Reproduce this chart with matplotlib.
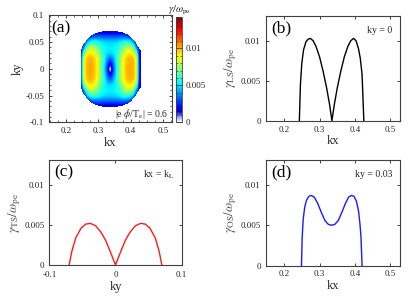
import numpy as np
import matplotlib
matplotlib.use('Agg')
import matplotlib.pyplot as plt
from matplotlib.colors import LinearSegmentedColormap
from matplotlib.ticker import AutoMinorLocator

plt.rcParams['font.family'] = ['Liberation Serif', 'DejaVu Serif']
plt.rcParams['mathtext.fontset'] = 'stix'

# (a) growth-rate map, values read on a coarse kx-ky grid (upper half, ky >= 0)
map_kx = [0.245, 0.255, 0.265, 0.275, 0.285, 0.295, 0.305, 0.315, 0.325, 0.335,
          0.345, 0.355, 0.365, 0.375, 0.385, 0.395, 0.405, 0.415, 0.425]
map_ky = [0.0, 0.01, 0.02, 0.03, 0.04, 0.05, 0.06, 0.07, 0.08]
row_ky00 = [0.0020, 0.0088, 0.0100, 0.0102, 0.0099, 0.0090, 0.0075, 0.0055, 0.0030, 0.0000,
            0.0030, 0.0055, 0.0075, 0.0090, 0.0099, 0.0102, 0.0100, 0.0088, 0.0020]
row_ky01 = [0.0020, 0.0088, 0.0100, 0.0101, 0.0098, 0.0089, 0.0075, 0.0057, 0.0035, 0.0017,
            0.0035, 0.0057, 0.0075, 0.0089, 0.0098, 0.0101, 0.0100, 0.0088, 0.0020]
row_ky02 = [0.0018, 0.0086, 0.0098, 0.0100, 0.0097, 0.0088, 0.0075, 0.0060, 0.0043, 0.0033,
            0.0043, 0.0060, 0.0075, 0.0088, 0.0097, 0.0100, 0.0098, 0.0086, 0.0018]
row_ky03 = [0.0015, 0.0068, 0.0088, 0.0092, 0.0089, 0.0080, 0.0067, 0.0056, 0.0051, 0.0049,
            0.0051, 0.0056, 0.0067, 0.0080, 0.0089, 0.0092, 0.0088, 0.0068, 0.0015]
row_ky04 = [0.0013, 0.0040, 0.0072, 0.0080, 0.0078, 0.0071, 0.0062, 0.0056, 0.0053, 0.0052,
            0.0053, 0.0056, 0.0062, 0.0071, 0.0078, 0.0080, 0.0072, 0.0040, 0.0013]
row_ky05 = [0.0013, 0.0020, 0.0044, 0.0057, 0.0060, 0.0058, 0.0053, 0.0050, 0.0049, 0.0048,
            0.0049, 0.0050, 0.0053, 0.0058, 0.0060, 0.0057, 0.0044, 0.0020, 0.0013]
row_ky06 = [0.0013, 0.0013, 0.0020, 0.0028, 0.0033, 0.0034, 0.0034, 0.0033, 0.0033, 0.0033,
            0.0033, 0.0033, 0.0034, 0.0034, 0.0033, 0.0028, 0.0020, 0.0013, 0.0013]
row_ky07 = [0.0013, 0.0013, 0.0013, 0.0014, 0.0015, 0.0015, 0.0015, 0.0014, 0.0014, 0.0014,
            0.0014, 0.0014, 0.0015, 0.0015, 0.0015, 0.0014, 0.0013, 0.0013, 0.0013]
row_ky08 = [0.0013] * 19
# unstable region boundary: half width in ky versus kx
edge_kx = [0.245, 0.25, 0.26, 0.27, 0.28, 0.29, 0.31, 0.335, 0.36, 0.38, 0.39, 0.40, 0.41, 0.42, 0.428]
edge_hw = [0.034, 0.042, 0.052, 0.059, 0.064, 0.067, 0.070, 0.071, 0.070, 0.067, 0.064, 0.059, 0.052, 0.042, 0.034]

# (b) ky = 0 cut
kx_b = [0.243, 0.246, 0.250, 0.255, 0.262, 0.268, 0.274, 0.282, 0.290, 0.300, 0.310, 0.320, 0.328, 0.335,
        0.342, 0.350, 0.360, 0.370, 0.380, 0.388, 0.396, 0.403, 0.410, 0.415, 0.420, 0.425]
gam_b = [0, 0.0045, 0.0072, 0.0089, 0.0099, 0.0102, 0.0103, 0.0100, 0.0093, 0.0080, 0.0062, 0.0041, 0.0021, 0,
         0.0021, 0.0041, 0.0062, 0.0080, 0.0093, 0.0100, 0.0103, 0.0100, 0.0090, 0.0078, 0.0058, 0]
# (c) kx = kL cut
ky_c = [-0.070, -0.066, -0.060, -0.052, -0.045, -0.038, -0.030, -0.022, -0.015, -0.008, 0,
        0.008, 0.015, 0.022, 0.030, 0.038, 0.045, 0.052, 0.060, 0.066, 0.070]
gam_c = [0, 0.0017, 0.0034, 0.0046, 0.0051, 0.0052, 0.0049, 0.0041, 0.0031, 0.0017, 0,
         0.0017, 0.0031, 0.0041, 0.0049, 0.0052, 0.0051, 0.0046, 0.0034, 0.0017, 0]
# (d) ky = 0.03 cut
kx_d = [0.249, 0.251, 0.254, 0.258, 0.263, 0.270, 0.277, 0.285, 0.295, 0.305, 0.315, 0.325, 0.334,
        0.343, 0.353, 0.363, 0.373, 0.382, 0.390, 0.397, 0.404, 0.410, 0.414, 0.417, 0.420]
gam_d = [0, 0.0035, 0.0058, 0.0072, 0.0081, 0.0086, 0.0087, 0.0085, 0.0077, 0.0066, 0.0056, 0.0051, 0.0050,
         0.0051, 0.0056, 0.0066, 0.0077, 0.0085, 0.0087, 0.0086, 0.0080, 0.0068, 0.0052, 0.0035, 0]

kx_ticks = [0.2, 0.3, 0.4, 0.5]
kx_labels = ['0.2', '0.3', '0.4', '0.5']
ky_ticks = [-0.1, -0.05, 0, 0.05, 0.1]
ky_labels = ['-0.1', '-0.05', '0', '0.05', '0.1']
g_ticks = [0, 0.005, 0.01]
g_labels = ['0', '0.005', '0.01']
kyc_ticks = [-0.1, 0, 0.1]
kyc_labels = ['-0.1', '0', '0.1']

fg = '#262626'
fs_tick = 6.5
fs_lab = 9
fs_ylab = 9.5
fs_panel = 12.5
fs_note = 7

cmap = LinearSegmentedColormap.from_list('wjet', [
    (0.0, (1, 1, 1)), (0.05, (0.6, 0.6, 1.0)), (0.10, (0.0, 0.0, 0.8)), (0.14, (0.0, 0.0, 1.0)),
    (0.375, (0.0, 1.0, 1.0)), (0.625, (1.0, 1.0, 0.0)), (0.875, (1.0, 0.0, 0.0)), (1.0, (0.5, 0.0, 0.0))])


def style(ax):
    ax.tick_params(direction='in', top=True, right=True, length=2.5, width=0.6,
                   labelsize=fs_tick, colors=fg, pad=3.5)
    for s in ax.spines.values():
        s.set_color('#404040')
        s.set_linewidth(0.8)


fig = plt.figure(figsize=(4.15, 2.97), dpi=100)

# panel (a)
axa = fig.add_axes([0.118, 0.588, 0.296, 0.361])
kx_f = np.linspace(0.24, 0.435, 391)
ky_f = np.linspace(-0.08, 0.08, 321)
rows = [row_ky00, row_ky01, row_ky02, row_ky03, row_ky04, row_ky05, row_ky06, row_ky07, row_ky08]
tmp = np.array([np.interp(kx_f, map_kx, r) for r in rows])
field = np.array([np.interp(np.abs(ky_f), map_ky, tmp[:, j]) for j in range(len(kx_f))]).T
hw_f = np.interp(kx_f, edge_kx, edge_hw)
inside = (np.abs(ky_f)[:, None] <= hw_f[None, :]) & (kx_f >= 0.245)[None, :] & (kx_f <= 0.428)[None, :]
field = np.where(inside, field, np.nan)
im = axa.imshow(field, extent=[kx_f[0], kx_f[-1], ky_f[0], ky_f[-1]], origin='lower',
                aspect='auto', cmap=cmap, vmin=0, vmax=0.0143, interpolation='nearest')
axa.set_xlim(0.148, 0.527)
axa.set_ylim(-0.1, 0.1)
axa.set_xticks(kx_ticks)
axa.set_xticklabels(kx_labels)
axa.set_yticks(ky_ticks)
axa.set_yticklabels(ky_labels)
axa.xaxis.set_minor_locator(AutoMinorLocator(4))
axa.yaxis.set_minor_locator(AutoMinorLocator(5))
style(axa)
axa.tick_params(which='minor', direction='in', top=True, right=True, length=1.3, width=0.5, colors=fg)
axa.set_xlabel('kx', fontsize=fs_lab, color=fg, labelpad=1)
axa.set_ylabel('ky', fontsize=fs_lab, color=fg, labelpad=1)
axa.text(0.02, 0.875, '(a)', transform=axa.transAxes, fontsize=fs_panel, va='center', ha='left', color='k')
axa.text(0.975, 0.075, r'|e $\phi$/T$_{\rm e}$| = 0.6', transform=axa.transAxes, fontsize=7,
         va='center', ha='right', color=fg)

cax = fig.add_axes([0.4234, 0.588, 0.0159, 0.356])
cb = fig.colorbar(im, cax=cax, ticks=g_ticks)
cb.ax.set_yticklabels(g_labels)
cb.outline.set_edgecolor('#404040')
cb.outline.set_linewidth(0.6)
cax.tick_params(direction='in', length=2, width=0.5, labelsize=fs_tick, colors=fg, pad=2.5,
                left=True, right=True)
cax.yaxis.set_minor_locator(AutoMinorLocator(5))
cax.tick_params(which='minor', direction='in', length=1.2, width=0.4, left=True, right=True, colors=fg)
cax.set_title(r'$\gamma/\omega_{\rm pe}$', fontsize=7.5, color=fg, pad=1.5)

# panel (b)
axb = fig.add_axes([0.6402, 0.5936, 0.3236, 0.3525])
axb.plot(kx_b, gam_b, color='k', lw=1.0)
axb.set_xlim(0.148, 0.527)
axb.set_ylim(0, 0.0131)
axb.set_xticks(kx_ticks)
axb.set_xticklabels(kx_labels)
axb.set_yticks(g_ticks)
axb.set_yticklabels(g_labels)
style(axb)
axb.set_xlabel('kx', fontsize=fs_lab, color=fg, labelpad=1)
axb.set_ylabel(r'$\gamma_{\rm LS}/\omega_{\rm pe}$', fontsize=fs_ylab, color='#555555', labelpad=1)
axb.text(0.045, 0.88, '(b)', transform=axb.transAxes, fontsize=fs_panel, va='center', ha='left', color='k')
axb.text(0.94, 0.86, 'ky = 0', transform=axb.transAxes, fontsize=fs_note, va='center', ha='right', color=fg)

# panel (c)
axc = fig.add_axes([0.1188, 0.1077, 0.319, 0.3535])
axc.plot(ky_c, gam_c, color='#ff1a1a', lw=1.0)
axc.set_xlim(-0.1, 0.1)
axc.set_ylim(0, 0.0131)
axc.set_xticks(kyc_ticks)
axc.set_xticklabels(kyc_labels)
axc.set_yticks(g_ticks)
axc.set_yticklabels(g_labels)
style(axc)
axc.tick_params(axis='x', pad=4.5)
axc.set_xlabel('ky', fontsize=fs_lab, color=fg, labelpad=1)
axc.set_ylabel(r'$\gamma_{\rm TS}/\omega_{\rm pe}$', fontsize=fs_ylab, color='#555555', labelpad=1)
axc.text(0.04, 0.88, '(c)', transform=axc.transAxes, fontsize=fs_panel, va='center', ha='left', color='k')
axc.text(0.94, 0.86, r'kx = k$_{\rm L}$', transform=axc.transAxes, fontsize=fs_note, va='center', ha='right', color=fg)

# panel (d)
axd = fig.add_axes([0.6402, 0.106, 0.3236, 0.3552])
axd.plot(kx_d, gam_d, color='#1a1aff', lw=1.0)
axd.set_xlim(0.148, 0.527)
axd.set_ylim(0, 0.0131)
axd.set_xticks(kx_ticks)
axd.set_xticklabels(kx_labels)
axd.set_yticks(g_ticks)
axd.set_yticklabels(g_labels)
style(axd)
axd.set_xlabel('kx', fontsize=fs_lab, color=fg, labelpad=1)
axd.set_ylabel(r'$\gamma_{\rm OS}/\omega_{\rm pe}$', fontsize=fs_ylab, color='#555555', labelpad=1)
axd.text(0.045, 0.88, '(d)', transform=axd.transAxes, fontsize=fs_panel, va='center', ha='left', color='k')
axd.text(0.94, 0.86, 'ky = 0.03', transform=axd.transAxes, fontsize=fs_note, va='center', ha='right', color=fg)

fig.savefig('out.png', dpi=100)
